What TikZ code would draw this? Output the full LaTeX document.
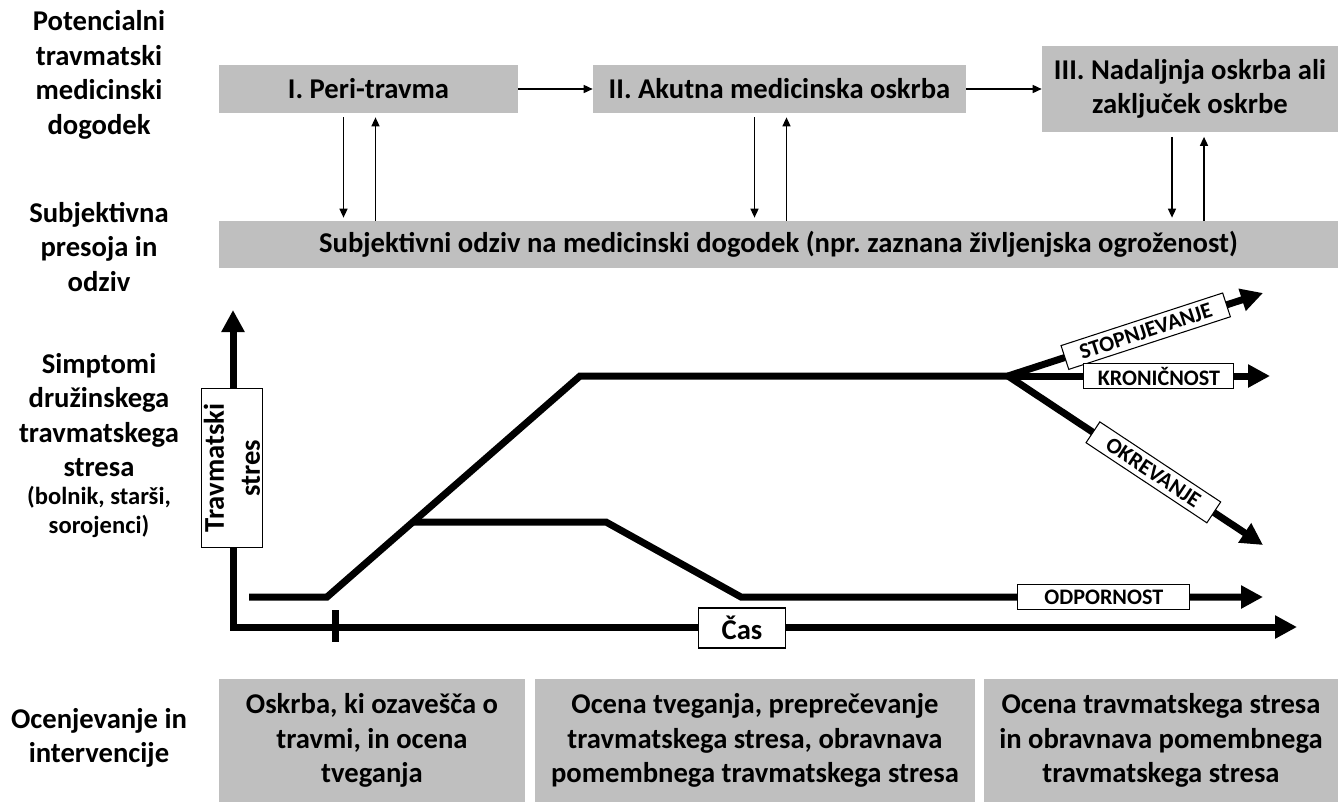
\documentclass[tikz,border=0pt]{standalone}
\usepackage{fontspec}
\setmainfont{Carlito}
\usetikzlibrary{arrows.meta}
\usetikzlibrary{calc}
\frenchspacing

\begin{document}
\begin{tikzpicture}[x=0.02cm, y=-0.02cm,
  sidelabel/.style={align=center, font=\bfseries\fontsize{16.3}{19.6}\selectfont},
  graybox/.style={fill=black!25, inner sep=0pt, align=center, font=\bfseries\fontsize{16.3}{19.6}\selectfont},
  axisbox/.style={draw, fill=white, line width=0.6pt, inner sep=0pt, align=center, font=\bfseries\fontsize{16.3}{20.5}\selectfont},
  tagbox/.style={draw, fill=white, line width=0.6pt, inner sep=0pt, minimum height=0.5cm, font=\bfseries\fontsize{12.6}{14}\selectfont},
  thinarrow/.style={line width=0.03cm, -{Triangle[length=0.18cm, width=0.16cm]}},
  graphline/.style={line width=0.14cm},
  bigarrow/.style={graphline, -{Triangle[length=0.44cm, width=0.44cm]}}]
  \useasboundingbox (0,0) rectangle (1341,802);

  \node[sidelabel] (event) at (99,75) {Potencialni\\travmatski\\medicinski\\dogodek};
  \node[sidelabel] (appraisal) at (99,247) {Subjektivna\\presoja in\\odziv};
  \node[sidelabel] (symptoms) at (99,415) {Simptomi\\družinskega\\travmatskega\\stresa};
  \node[sidelabel, font=\bfseries\fontsize{14}{17}\selectfont] (family) at (99,512) {(bolnik, starši,\\sorojenci)};
  \node[sidelabel] (care) at (99,738) {Ocenjevanje in\\intervencije};

  \node[graybox, minimum width=5.98cm, minimum height=0.96cm] (peri) at (368.5,89) {I. Peri-travma};
  \node[graybox, minimum width=7.46cm, minimum height=0.96cm] (acute) at (779.5,89) {II. Akutna medicinska oskrba};
  \node[graybox, minimum width=5.92cm, minimum height=1.74cm] (ongoing) at (1190,89) {III. Nadaljnja oskrba ali\\zaključek oskrbe};
  \node[graybox, minimum width=22.38cm, minimum height=0.94cm] (response) at (778.5,244.5) {Subjektivni odziv na medicinski dogodek (npr. zaznana življenjska ogroženost)};

  \draw[thinarrow] (peri) -- (acute);
  \draw[thinarrow] (acute) -- (ongoing);
  \foreach \stage/\dn/\up in {peri/-25/7, acute/-25/7, ongoing/-18/14} {
    \draw[thinarrow] ($(\stage.south)+(\dn,4)$) -- ($(\stage.south |- response.north)+(\dn,-3)$);
    \draw[thinarrow] ($(\stage.south |- response.north)+(\up,0)$) -- ($(\stage.south)+(\up,4)$);
  }

  \coordinate (origin) at (233,627);
  \coordinate (ytip) at (233,310);
  \coordinate (xtip) at (1297,627);
  \draw[graphline, {Triangle[length=0.44cm, width=0.44cm]}-{Triangle[length=0.44cm, width=0.44cm]}] (ytip) -- (origin) -- (xtip);
  \draw[graphline] (335,610) -- (335,642);
  \node[axisbox, minimum width=3.18cm, minimum height=1.22cm, rotate=90] (stress) at (232,468) {Travmatski\\stres};
  \node[axisbox, minimum width=1.74cm, minimum height=0.8cm] (time) at (742,628) {Čas};

  \coordinate (fork) at (1008,376);
  \draw[graphline] (249,597) -- (327,597) -- (580,376) -- (fork);
  \draw[bigarrow] (413,522) -- (606,522) -- (741,597) -- (1263,597) node[tagbox, pos=0.695, minimum width=3.44cm] (resil) {ODPORNOST};
  \draw[bigarrow] (fork) -- (1263,293) node[tagbox, sloped, pos=0.54, minimum width=3.4cm] (escal) {STOPNJEVANJE};
  \draw[bigarrow] (fork) -- (1270,376) node[tagbox, pos=0.576, minimum width=3cm] (chron) {KRONIČNOST};
  \draw[bigarrow] (fork) -- (1263,545) node[tagbox, sloped, pos=0.57, minimum width=2.9cm] (recov) {OKREVANJE};

  \node[graybox, minimum width=6.12cm, minimum height=2.46cm] (aware) at (372,740.5) {Oskrba, ki ozavešča o\\travmi, in ocena\\tveganja};
  \node[graybox, minimum width=8.8cm, minimum height=2.46cm] (prevent) at (755,740.5) {Ocena tveganja, preprečevanje\\travmatskega stresa, obravnava\\pomembnega travmatskega stresa};
  \node[graybox, minimum width=7.08cm, minimum height=2.46cm] (treat) at (1161,740.5) {Ocena travmatskega stresa\\in obravnava pomembnega\\travmatskega stresa};
\end{tikzpicture}
\end{document}
